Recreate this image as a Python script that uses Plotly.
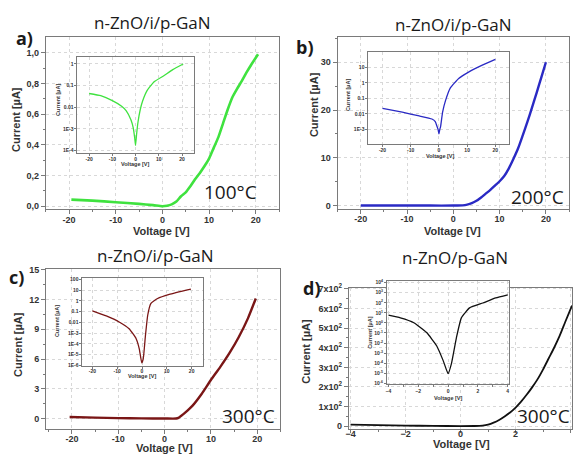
import plotly.graph_objects as go

W, H = 573, 463

# ---------------- data ----------------
# panel a (100 °C), n-ZnO/i/p-GaN
a_v = [-19.5, -15, -10, -5, -2, 0, 1, 2, 3, 4, 5, 6, 7, 8, 9, 10, 11, 12, 13, 14, 15, 16, 17, 18, 19, 20.5]
a_i = [0.043, 0.036, 0.026, 0.015, 0.007, 0.0, 0.003, 0.012, 0.03, 0.065, 0.09, 0.13, 0.175, 0.215, 0.26,
       0.31, 0.38, 0.45, 0.54, 0.63, 0.71, 0.765, 0.815, 0.87, 0.92, 0.99]
a_in_v = [-20, -15, -10, -6, -4, -2, -1, -0.4, 0, 0.4, 1, 2, 3, 5, 8, 12, 16, 20.5]
a_in_i = [0.043, 0.034, 0.02, 0.011, 0.0068, 0.0026, 0.0011, 0.0004, 0.00017, 0.0005, 0.0019, 0.0076,
          0.019, 0.06, 0.15, 0.28, 0.55, 1.0]

# panel b (200 °C)
b_v = [-20, -15, -10, -5, 0, 2, 3, 4, 5, 6, 7, 8, 9, 10, 11, 12, 13, 14, 15, 16, 17, 18, 19, 20]
b_i = [0.02, 0.015, 0.01, 0.006, 0.002, 0.05, 0.2, 0.5, 1.0, 1.7, 2.5, 3.3, 4.2, 5.1, 6.2, 7.8, 9.8,
       12.0, 14.7, 17.5, 20.5, 23.6, 26.8, 30]
b_in_v = [-20, -13, -7, -2.5, -1.3, -0.7, -0.3, 0, 0.3, 0.6, 1.3, 2.3, 4, 7, 10.5, 15, 20]
b_in_i = [0.023, 0.013, 0.0074, 0.0047, 0.0032, 0.0016, 0.001, 0.00052, 0.001, 0.0016, 0.013, 0.069,
          0.46, 1.9, 4.9, 12.6, 32]

# panel c (300 °C)
c_v = [-20.5, -15, -10, -5, 0, 2.5, 3, 4, 5, 6, 8, 10, 12, 14, 16, 18, 19.7]
c_i = [0.18, 0.12, 0.07, 0.04, 0.03, 0.03, 0.1, 0.45, 0.85, 1.3, 2.5, 3.9, 5.2, 6.6, 8.2, 10.1, 12.1]
c_in_v = [-20, -14.4, -9.2, -5.2, -2.4, -1.1, -0.1, 0.5, 1.4, 2.3, 3.6, 6.3, 11, 19.7]
c_in_i = [0.12, 0.04, 0.011, 0.0026, 3.2e-4, 3.5e-5, 1.7e-6, 4e-6, 6.3e-4, 0.046, 0.58, 1.66, 4.0, 12.3]

# panel d (300 °C), n-ZnO/p-GaN
d_v = [-4, -3, -2, -1, 0, 0.5, 0.8, 1.0, 1.2, 1.4, 1.6, 1.8, 2.0, 2.2, 2.4, 2.6, 2.8, 3.0, 3.2, 3.4,
       3.6, 3.8, 4.05]
d_i = [8.5, 5, 3, 1.5, 0.5, 1, 3, 8, 18, 32, 50, 70, 95, 125, 160, 198, 240, 290, 345, 400, 460, 530, 615]
d_in_v = [-4, -3.2, -2.3, -1.44, -0.77, -0.33, 0, 0.22, 0.56, 0.89, 1.44, 2.33, 3.2, 4]
d_in_i = [5.8, 3.2, 1.05, 0.11, 0.0054, 1.8e-4, 9e-6, 8.5e-5, 0.035, 3.2, 31, 95, 300, 620]

# tick labels
a_yvals = [0, 0.2, 0.4, 0.6, 0.8, 1.0]
a_ytext = ["0,0", "0,2", "0,4", "0,6", "0,8", "1,0"]
a_in_yvals = [1, 0.1, 0.01, 1e-3, 1e-4]
a_in_ytext = ["1", "0.1", "0.01", "1E-3", "1E-4"]
b_in_yvals = [10, 1, 0.1, 0.01, 1e-3]
b_in_ytext = ["10", "1", "0.1", "0.01", "1E-3"]
c_in_yvals = [100, 10, 1, 0.1, 0.01, 1e-3, 1e-4, 1e-5, 1e-6]
c_in_ytext = ["100", "10", "1", "0.1", "0.01", "1E-3", "1E-4", "1E-5", "1E-6"]
d_yvals = [0, 100, 200, 300, 400, 500, 600, 700]
d_ytext = ["0"] + [f"{k}x10<sup>2</sup>" for k in range(1, 8)]
d_in_exps = list(range(-6, 5))
d_in_yvals = [10.0 ** e for e in d_in_exps]
d_in_ytext = [f"10<sup>{e}</sup>" for e in d_in_exps]

# ---------------- layout helpers ----------------
def px(x):
    return x / W

def py(y):
    return 1 - y / H

FRAME = "#7a7a7a"
GRID = "#d8d8d8"
TICKF = dict(family="Liberation Sans, Arial", size=9, color="#333", weight="bold")
SMALLF = dict(family="Liberation Sans, Arial", size=5, color="#333", weight="bold")


def axis(domain, rng, anchor, small=False, **kw):
    d = dict(domain=domain, range=rng, anchor=anchor, showline=True, mirror=True,
             linecolor=FRAME, linewidth=1, ticks="outside", ticklen=2 if small else 4,
             tickcolor=FRAME, showgrid=True, gridcolor=GRID, griddash="dot", gridwidth=1,
             zeroline=False, tickfont=SMALLF if small else TICKF, fixedrange=True)
    d.update(kw)
    return d


fig = go.Figure()

GREEN = "#3fe23f"
BLUE = "#2a2ac4"
RED = "#7a1616"
BLACK = "#111111"

traces = [
    (a_v, a_i, GREEN, 2.6, "x", "y", 0.6),
    (a_in_v, a_in_i, GREEN, 1.3, "x2", "y2", 0.4),
    (b_v, b_i, BLUE, 2.4, "x3", "y3", 0.6),
    (b_in_v, b_in_i, BLUE, 1.3, "x4", "y4", 0.4),
    (c_v, c_i, RED, 2.4, "x5", "y5", 0.6),
    (c_in_v, c_in_i, RED, 1.3, "x6", "y6", 0.4),
    (d_v, d_i, BLACK, 1.8, "x7", "y7", 0.6),
    (d_in_v, d_in_i, BLACK, 1.3, "x8", "y8", 0.4),
]
for xs, ys, col, wdt, xa, ya, sm in traces:
    fig.add_trace(go.Scatter(x=xs, y=ys, mode="lines", xaxis=xa, yaxis=ya,
                             line=dict(color=col, width=wdt, shape="spline", smoothing=sm),
                             showlegend=False, hoverinfo="skip"))

x20 = dict(tickmode="array", tickvals=[-20, -10, 0, 10, 20], ticktext=["-20", "-10", "0", "10", "20"])
minor_x20 = dict(ticks="outside", ticklen=2, tickcolor=FRAME, tickmode="array",
                 tickvals=[-25, -15, -5, 5, 15, 25], showgrid=False)

lay = dict(
    width=W, height=H, margin=dict(l=0, r=0, t=0, b=0),
    paper_bgcolor="white", plot_bgcolor="white", showlegend=False,
    # a main
    xaxis=axis([px(43), px(278)], [-25, 25], "y", minor=minor_x20, ticklabelstandoff=-2, **x20),
    yaxis=axis([py(208), py(33)], [-0.021, 1.1], "x", tickmode="array", tickvals=a_yvals,
               ticktext=a_ytext,
               minor=dict(ticks="outside", ticklen=2, tickcolor=FRAME, tickmode="array",
                          tickvals=[0.1, 0.3, 0.5, 0.7, 0.9], showgrid=False)),
    # a inset
    xaxis2=axis([px(75), px(192)], [-25, 25], "y2", small=True, ticklabelstandoff=-1, **x20),
    yaxis2=axis([py(151), py(53)], [-4.14, 0.32], "x2", small=True, type="log",
                tickmode="array", tickvals=a_in_yvals, ticktext=a_in_ytext),
    # b main
    xaxis3=axis([px(337), px(570)], [-25, 25], "y3", minor=minor_x20, ticklabelstandoff=-3, **x20),
    yaxis3=axis([py(208), py(33)], [-0.8, 35.2], "x3", tickmode="array", tickvals=[0, 10, 20, 30],
                minor=dict(ticks="outside", ticklen=2, tickcolor=FRAME, tickmode="array",
                           tickvals=[5, 15, 25, 35], showgrid=False)),
    # b inset
    xaxis4=axis([px(368), px(510)], [-25, 25], "y4", small=True, ticklabelstandoff=-1, **x20),
    yaxis4=axis([py(141.7), py(48)], [-3.95, 1.97], "x4", small=True, type="log",
                tickmode="array", tickvals=b_in_yvals, ticktext=b_in_ytext),
    # c main
    xaxis5=axis([px(43.3), px(279.3)], [-25.6, 25], "y5", minor=minor_x20, ticklabelstandoff=-3, **x20),
    yaxis5=axis([py(431.7), py(268.3)], [-1.05, 15.1], "x5", tickmode="array",
                tickvals=[0, 3, 6, 9, 12, 15],
                minor=dict(ticks="outside", ticklen=2, tickcolor=FRAME, tickmode="array",
                           tickvals=[1.5, 4.5, 7.5, 10.5, 13.5], showgrid=False)),
    # c inset
    xaxis6=axis([px(80), px(201.7)], [-24, 24.7], "y6", small=True, ticklabelstandoff=-2, **x20),
    yaxis6=axis([py(367.3), py(278.3)], [-6.05, 2.08], "x6", small=True, type="log",
                tickmode="array", tickvals=c_in_yvals, ticktext=c_in_ytext),
    # d main
    xaxis7=axis([px(348.3), 1.0], [-4.06, 4.05], "y7", tickmode="array",
                tickvals=[-4, -2, 0, 2, 4], ticklabelstandoff=-6, ticklen=3,
                minor=dict(ticks="outside", ticklen=2, tickcolor=FRAME, tickmode="array",
                           tickvals=[-3, -1, 1, 3], showgrid=False)),
    yaxis7=axis([py(431), py(287.7)], [-12, 706], "x7", tickmode="array", tickvals=d_yvals,
                ticktext=d_ytext,
                minor=dict(ticks="outside", ticklen=2, tickcolor=FRAME, tickmode="array",
                           tickvals=[50, 150, 250, 350, 450, 550, 650], showgrid=False)),
    # d inset
    xaxis8=axis([px(386.7), px(509.3)], [-4.1, 4.07], "y8", small=True, tickmode="array",
                tickvals=[-4, -2, 0, 2, 4],
                minor=dict(ticks="outside", ticklen=1.5, tickcolor=FRAME, tickmode="array",
                           tickvals=[-3, -1, 1, 3], showgrid=False)),
    yaxis8=axis([py(386), py(281)], [-6.1, 4.15], "x8", small=True, type="log",
                tickmode="array", tickvals=d_in_yvals, ticktext=d_in_ytext),
)
fig.update_layout(**lay)

TITLEF = dict(family="Open Sans", size=17, color="#1a1a1a")
LABF = dict(family="Open Sans", size=18, color="#1a1a1a", weight="bold")
TEMPF = dict(family="Open Sans", size=19, color="#1a1a1a")
AXF = dict(family="Liberation Sans, Arial", size=11, color="#333", weight="bold")
AXSF = dict(family="Liberation Sans, Arial", size=5.5, color="#333", weight="bold")

texts = [
    # titles
    ("n-ZnO/i/p-GaN", 151, 18, TITLEF, 0),
    ("n-ZnO/i/p-GaN", 454, 20, TITLEF, 0),
    ("n-ZnO/i/p-GaN", 154, 255, TITLEF, 0),
    ("n-ZnO/p-GaN", 455, 257, TITLEF, 0),
    # panel labels
    ("a)", 22, 34, LABF, 0),
    ("b)", 304, 43, LABF, 0),
    ("c)", 14, 277, LABF, 0),
    ("d)", 311, 288, LABF, 0),
    # temperatures
    ("100°C", 229, 190, TEMPF, 0),
    ("200°C", 538, 195, TEMPF, 0),
    ("300°C", 247, 418, TEMPF, 0),
    ("300°C", 544, 418, TEMPF, 0),
    # main axis titles
    ("Current [µA]", 13, 116, AXF, -90),
    ("Voltage [V]", 160, 230, AXF, 0),
    ("Current [µA]", 313, 101, AXF, -90),
    ("Voltage [V]", 453, 230, AXF, 0),
    ("Current [µA]", 15, 345, AXF, -90),
    ("Voltage [V]", 163, 451, AXF, 0),
    ("Current [µA]", 305, 352, AXF, -90),
    ("Voltage [V]", 462, 447, AXF, 0),
    # inset axis titles
    ("Current [µA]", 56, 97, AXSF, -90),
    ("Voltage [V]", 133, 162, AXSF, 0),
    ("Current [µA]", 348, 92, AXSF, -90),
    ("Voltage [V]", 440, 154, AXSF, 0),
    ("Current [µA]", 55, 322, AXSF, -90),
    ("Voltage [V]", 140, 378, AXSF, 0),
    ("Current [µA]", 370, 333, AXSF, -90),
    ("Voltage [V]", 448, 400, AXSF, 0),
]
for t, x, y, f, ang in texts:
    fig.add_annotation(text=t, x=px(x), y=py(y), xref="paper", yref="paper",
                       showarrow=False, font=f, textangle=ang, xanchor="center", yanchor="middle")

fig.write_html("out.html", config={"displayModeBar": False},
               post_script="document.body.style.margin='0';document.body.style.overflow='hidden';")
